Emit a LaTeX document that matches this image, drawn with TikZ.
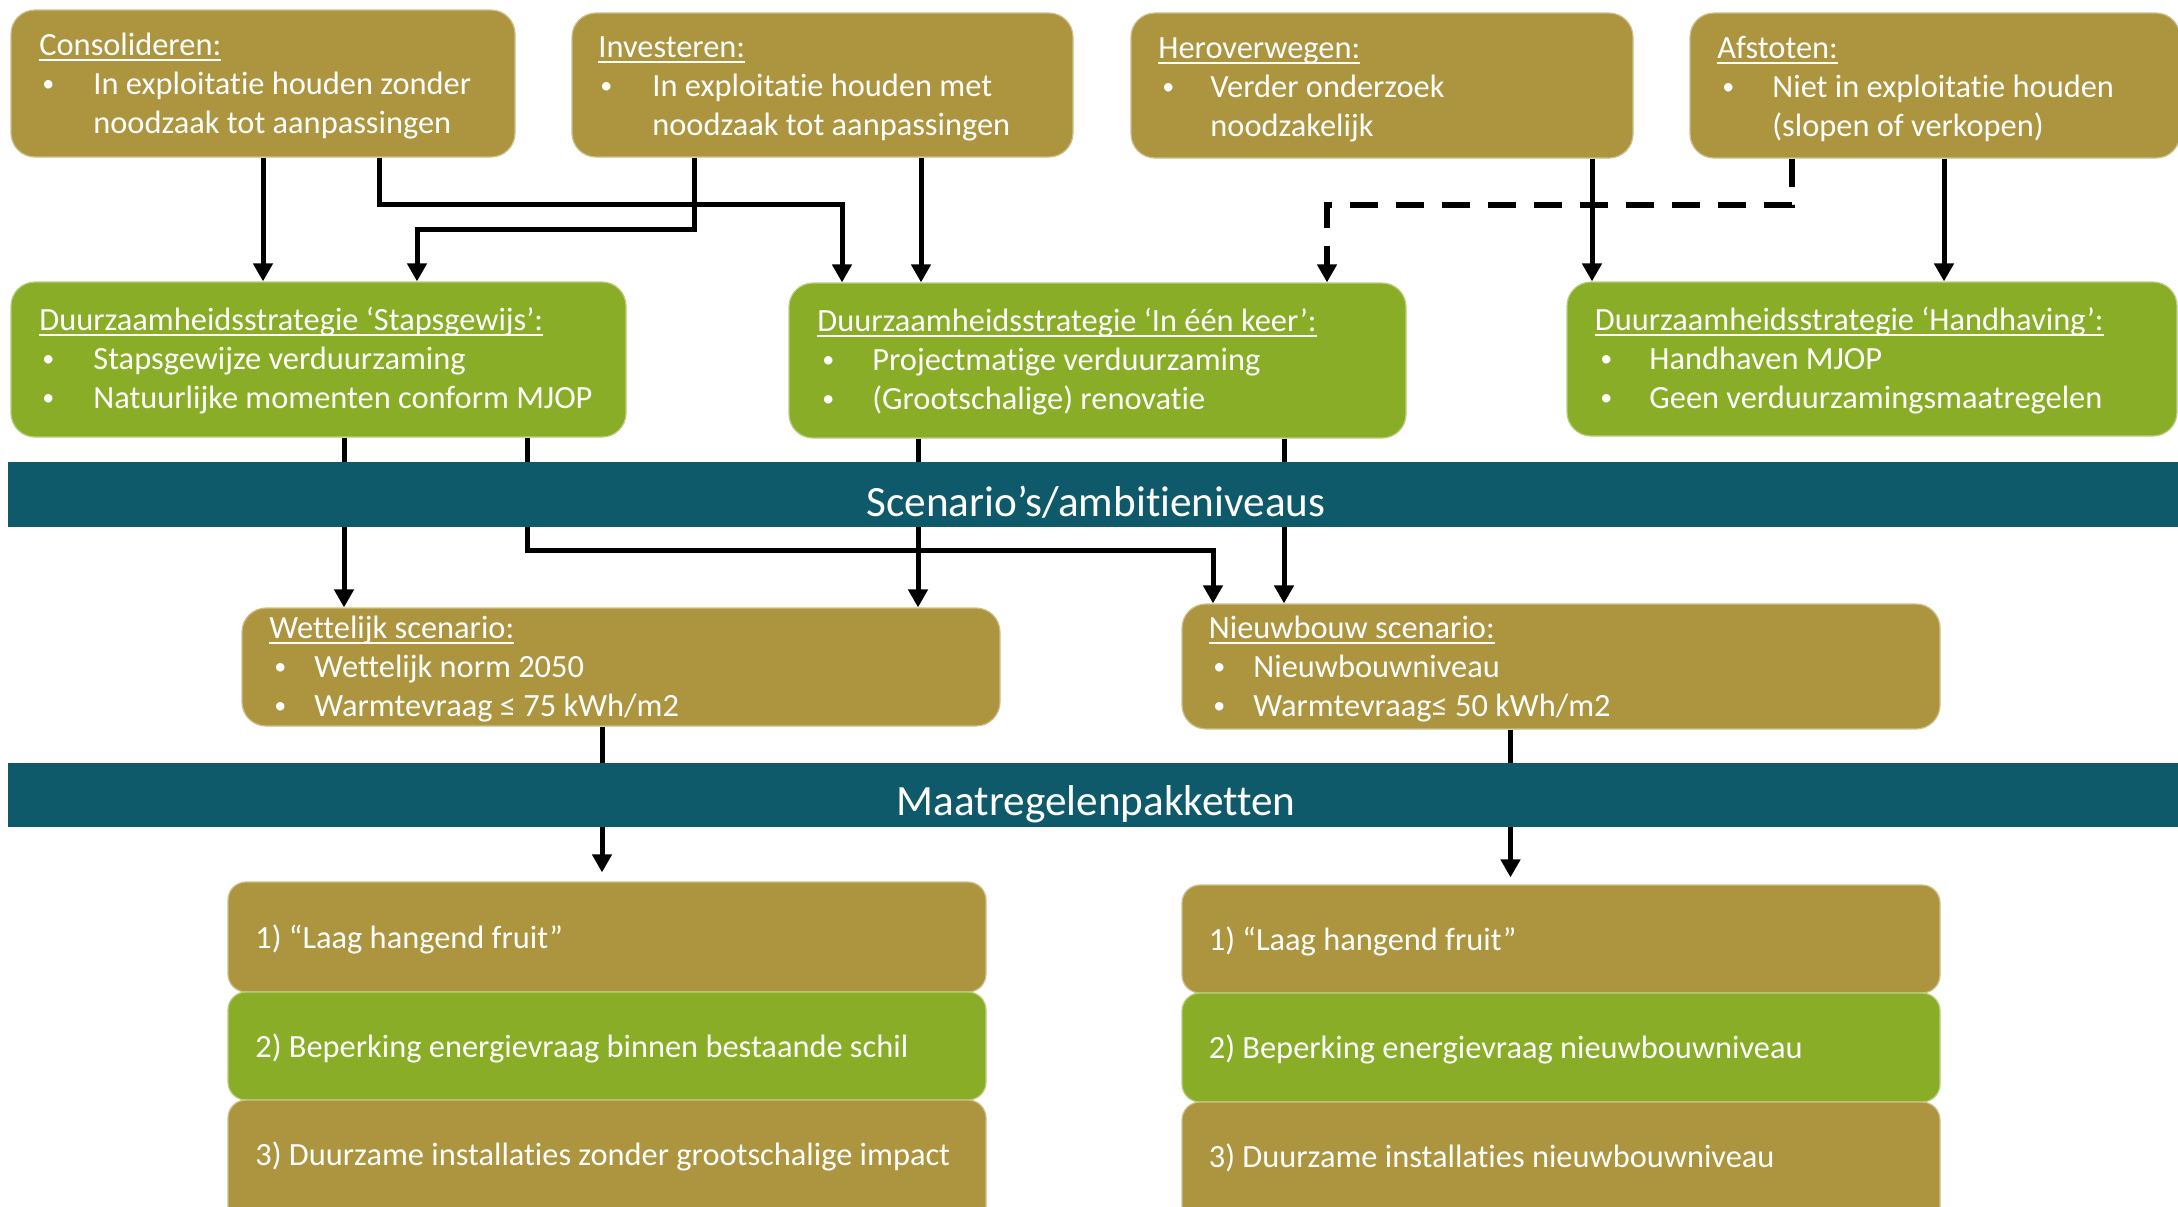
\documentclass[tikz,border=0pt]{standalone}
\usepackage{fontspec}
\setmainfont{Carlito}[Ligatures=NoCommon,RawFeature={-calt}]
\usetikzlibrary{arrows.meta,fit}
\definecolor{gold}{HTML}{AD9540}
\definecolor{lgreen}{HTML}{89AD27}
\definecolor{tealband}{HTML}{0F5A6A}
\pgfdeclarelayer{front}
\pgfsetlayers{main,front}
\newcommand\ulx[1]{\setbox0\hbox{#1}\rlap{\rule[-3pt]{\wd0}{0.9pt}}\box0}
\newcommand\bul[1]{\makebox[#1][l]{\raisebox{1.2pt}{\fontsize{12pt}{12pt}\selectfont\textbullet}}}
\begin{document}
\begin{tikzpicture}[x=0.5pt,y=-0.5pt,
  goldbox/.style={fill=gold, draw=gold!60!white, line width=0.6pt, rounded corners=12pt, inner sep=0pt},
  greenbox/.style={fill=lgreen, draw=lgreen!60!white, line width=0.6pt, rounded corners=12pt, inner sep=0pt},
  stackr/.style={rounded corners=9pt},
  bandbox/.style={fill=tealband, inner sep=0pt},
  txt/.style={text=white, inner sep=0pt, anchor=base west, font=\fontsize{16.2pt}{19.5pt}\selectfont},
  bandtxt/.style={text=white, inner sep=0pt, anchor=base, font=\fontsize{21.6pt}{26pt}\selectfont},
  arr/.style={line width=2.5pt, -{Triangle[length=9pt,width=9.5pt]}},
  dasharr/.style={line width=3pt, dash pattern=on 14pt off 9pt, -{Triangle[length=9pt,width=9.5pt]}},
]
\useasboundingbox (0,0) rectangle (2178,1206);
\clip (0,0) rectangle (2178,1206);

% top row
\node[goldbox, fit={(11,10) (515,157)}] (cons) {};
\node[goldbox, fit={(572,13) (1073,157)}] (inv) {};
\node[goldbox, fit={(1131,13) (1633,158)}] (herov) {};
\node[goldbox, fit={(1690,13) (2180,158)}] (afst) {};
% strategies
\node[greenbox, fit={(11,282) (626,437)}] (steps) {};
\node[greenbox, fit={(789,283) (1406,438)}] (een) {};
\node[greenbox, fit={(1567,282) (2177,436)}] (handh) {};
% scenarios
\node[goldbox, fit={(242,608) (1000,726)}] (wett) {};
\node[goldbox, fit={(1182,604) (1940,729)}] (nieuw) {};
% stacks
\node[goldbox, stackr, fit={(228,882) (986,992)}] (l1) {};
\node[greenbox, stackr, fit={(228,992) (986,1100)}] (l2) {};
\node[goldbox, stackr, fit={(228,1100) (986,1240)}] (l3) {};
\node[goldbox, stackr, fit={(1182,885) (1940,993)}] (r1) {};
\node[greenbox, stackr, fit={(1182,993) (1940,1102)}] (r2) {};
\node[goldbox, stackr, fit={(1182,1102) (1940,1240)}] (r3) {};

% texts
\node[txt] (cons-h) at (39,55) {\ulx{Consolideren:}};
\node[txt] (cons-a) at (42,94) {\bul{25.5pt}In exploitatie houden zonder};
\node[txt] (cons-b) at (93,133) {noodzaak tot aanpassingen};

\node[txt] (inv-h) at (598,57) {\ulx{Investeren:}};
\node[txt] (inv-a) at (600,96) {\bul{26pt}In exploitatie houden met};
\node[txt] (inv-b) at (652,135) {noodzaak tot aanpassingen};

\node[txt] (herov-h) at (1158,58) {\ulx{Heroverwegen:}};
\node[txt] (herov-a) at (1162,97) {\bul{24pt}Verder onderzoek};
\node[txt] (herov-b) at (1210,136) {noodzakelijk};

\node[txt] (afst-h) at (1717,58) {\ulx{Afstoten:}};
\node[txt] (afst-a) at (1722,97) {\bul{25pt}Niet in exploitatie houden};
\node[txt] (afst-b) at (1772,136) {(slopen of verkopen)};

\node[txt] (steps-h) at (39,330) {\ulx{Duurzaamheidsstrategie ‘Stapsgewijs’:}};
\node[txt] (steps-a) at (42,369) {\bul{25.5pt}Stapsgewijze verduurzaming};
\node[txt] (steps-b) at (42,408) {\bul{25.5pt}Natuurlijke momenten conform MJOP};

\node[txt] (een-h) at (817,331) {\ulx{Duurzaamheidsstrategie ‘In één keer’:}};
\node[txt] (een-a) at (822,370) {\bul{25pt}Projectmatige verduurzaming};
\node[txt] (een-b) at (822,409) {\bul{25pt}(Grootschalige) renovatie};

\node[txt] (handh-h) at (1594.5,330) {\ulx{Duurzaamheidsstrategie ‘Handhaving’:}};
\node[txt] (handh-a) at (1600,369) {\bul{24.5pt}Handhaven MJOP};
\node[txt] (handh-b) at (1600,408) {\bul{24.5pt}Geen verduurzamingsmaatregelen};

\node[txt] (wett-h) at (269,638) {\ulx{Wettelijk scenario:}};
\node[txt] (wett-a) at (274,677) {\bul{20pt}Wettelijk norm 2050};
\node[txt] (wett-b) at (274,716) {\bul{20pt}Warmtevraag ≤ 75 kWh/m2};

\node[txt] (nieuw-h) at (1208.5,638) {\ulx{Nieuwbouw scenario:}};
\node[txt] (nieuw-a) at (1213,677) {\bul{20pt}Nieuwbouwniveau};
\node[txt] (nieuw-b) at (1213,716) {\bul{20pt}Warmtevraag≤ 50 kWh/m2};

\node[txt] (l1-t) at (255,948) {1) “Laag hangend fruit”};
\node[txt] (l2-t) at (255,1057) {2) Beperking energievraag binnen bestaande schil};
\node[txt] (l3-t) at (255,1165) {3) Duurzame installaties zonder grootschalige impact};
\node[txt] (r1-t) at (1208.5,950) {1) “Laag hangend fruit”};
\node[txt] (r2-t) at (1208.5,1058) {2) Beperking energievraag nieuwbouwniveau};
\node[txt] (r3-t) at (1208.5,1167) {3) Duurzame installaties nieuwbouwniveau};

% connectors
\draw[arr] (263,0 |- cons.south) -- (263,0 |- steps.north);
\draw[arr] (379,0 |- cons.south) |- (842,204) -- (842,0 |- een.north);
\draw[arr] (694.5,0 |- inv.south) |- (417,229) -- (417,0 |- steps.north);
\draw[arr] (921,0 |- inv.south) -- (921,0 |- een.north);
\draw[arr] (1592,0 |- herov.south) -- (1592,0 |- handh.north);
\draw[dasharr] (1792,0 |- afst.south) |- (1327,205) -- (1327,0 |- een.north);
\draw[arr] (1944,0 |- afst.south) -- (1944,0 |- handh.north);
\draw[arr] (344,0 |- steps.south) -- (344,0 |- wett.north);
\draw[arr] (527.5,0 |- steps.south) |- (1213,550) -- (1213,0 |- nieuw.north);
\draw[arr] (918,0 |- een.south) -- (918,0 |- wett.north);
\draw[arr] (1284,0 |- een.south) -- (1284,0 |- nieuw.north);
\draw[arr, shorten >=4.5pt] (602,0 |- wett.south) -- (602,0 |- l1.north);
\draw[arr, shorten >=3.5pt] (1510.5,0 |- nieuw.south) -- (1510.5,0 |- r1.north);

% bands on top of connectors
\begin{pgfonlayer}{front}
\node[bandbox, fit={(8,462) (2178,527)}] (scen) {};
\node[bandtxt] (scen-t) at (1096,516) {Scenario’s/ambitieniveaus};
\node[bandbox, fit={(8,763) (2178,827)}] (maat) {};
\node[bandtxt] (maat-t) at (1096,815) {Maatregelenpakketten};
\end{pgfonlayer}
\end{tikzpicture}
\end{document}
